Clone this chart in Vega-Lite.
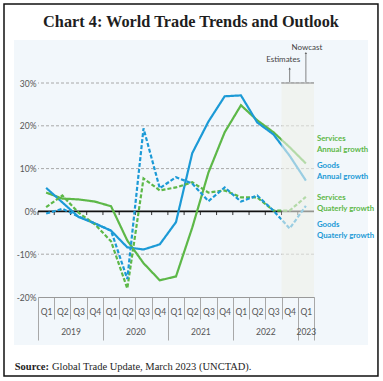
{
  "$schema": "https://vega.github.io/schema/vega-lite/v6.json",
  "width": 276,
  "height": 214,
  "autosize": "none",
  "padding": {"left": 38, "top": 83, "right": 69, "bottom": 84},
  "background": "white",
  "config": {"view": {"stroke": null}},
  "title": {
    "text": "Chart 4: World Trade Trends and Outlook",
    "font": "Liberation Serif",
    "fontSize": 16.3,
    "fontWeight": "bold",
    "color": "#1e1e1e",
    "anchor": "middle",
    "frame": "group",
    "dx": 15,
    "offset": -27
  },
  "data": {"values": [{}]},
  "datasets": {
    "trade": [
      {"series": "Services annual growth", "quarter": "2019 Q1", "i": 1, "value": 4.4},
      {"series": "Services annual growth", "quarter": "2019 Q2", "i": 2, "value": 3.0},
      {"series": "Services annual growth", "quarter": "2019 Q3", "i": 3, "value": 2.8},
      {"series": "Services annual growth", "quarter": "2019 Q4", "i": 4, "value": 2.3},
      {"series": "Services annual growth", "quarter": "2020 Q1", "i": 5, "value": 1.2},
      {"series": "Services annual growth", "quarter": "2020 Q2", "i": 6, "value": -6.8},
      {"series": "Services annual growth", "quarter": "2020 Q3", "i": 7, "value": -12.1},
      {"series": "Services annual growth", "quarter": "2020 Q4", "i": 8, "value": -16.1},
      {"series": "Services annual growth", "quarter": "2021 Q1", "i": 9, "value": -15.2},
      {"series": "Services annual growth", "quarter": "2021 Q2", "i": 10, "value": -3.8},
      {"series": "Services annual growth", "quarter": "2021 Q3", "i": 11, "value": 9.1},
      {"series": "Services annual growth", "quarter": "2021 Q4", "i": 12, "value": 18.5},
      {"series": "Services annual growth", "quarter": "2022 Q1", "i": 13, "value": 24.8},
      {"series": "Services annual growth", "quarter": "2022 Q2", "i": 14, "value": 21.3},
      {"series": "Services annual growth", "quarter": "2022 Q3", "i": 15, "value": 18.5},
      {"series": "Services annual growth", "quarter": "2022 Q4", "i": 16, "value": 15.0},
      {"series": "Services annual growth", "quarter": "2023 Q1", "i": 17, "value": 11.2},
      {"series": "Goods annual growth", "quarter": "2019 Q1", "i": 1, "value": 5.5},
      {"series": "Goods annual growth", "quarter": "2019 Q2", "i": 2, "value": 2.1},
      {"series": "Goods annual growth", "quarter": "2019 Q3", "i": 3, "value": -1.3},
      {"series": "Goods annual growth", "quarter": "2019 Q4", "i": 4, "value": -2.8},
      {"series": "Goods annual growth", "quarter": "2020 Q1", "i": 5, "value": -4.5},
      {"series": "Goods annual growth", "quarter": "2020 Q2", "i": 6, "value": -8.4},
      {"series": "Goods annual growth", "quarter": "2020 Q3", "i": 7, "value": -8.9},
      {"series": "Goods annual growth", "quarter": "2020 Q4", "i": 8, "value": -7.7},
      {"series": "Goods annual growth", "quarter": "2021 Q1", "i": 9, "value": -2.5},
      {"series": "Goods annual growth", "quarter": "2021 Q2", "i": 10, "value": 13.6},
      {"series": "Goods annual growth", "quarter": "2021 Q3", "i": 11, "value": 21.0},
      {"series": "Goods annual growth", "quarter": "2021 Q4", "i": 12, "value": 26.9},
      {"series": "Goods annual growth", "quarter": "2022 Q1", "i": 13, "value": 27.1},
      {"series": "Goods annual growth", "quarter": "2022 Q2", "i": 14, "value": 20.8},
      {"series": "Goods annual growth", "quarter": "2022 Q3", "i": 15, "value": 18.0},
      {"series": "Goods annual growth", "quarter": "2022 Q4", "i": 16, "value": 13.0},
      {"series": "Goods annual growth", "quarter": "2023 Q1", "i": 17, "value": 7.2},
      {"series": "Services quarterly growth", "quarter": "2019 Q1", "i": 1, "value": 1.0},
      {"series": "Services quarterly growth", "quarter": "2019 Q2", "i": 2, "value": 3.7},
      {"series": "Services quarterly growth", "quarter": "2019 Q3", "i": 3, "value": -0.3},
      {"series": "Services quarterly growth", "quarter": "2019 Q4", "i": 4, "value": -3.0},
      {"series": "Services quarterly growth", "quarter": "2020 Q1", "i": 5, "value": -7.0},
      {"series": "Services quarterly growth", "quarter": "2020 Q2", "i": 6, "value": -18.0},
      {"series": "Services quarterly growth", "quarter": "2020 Q3", "i": 7, "value": 7.7},
      {"series": "Services quarterly growth", "quarter": "2020 Q4", "i": 8, "value": 4.9},
      {"series": "Services quarterly growth", "quarter": "2021 Q1", "i": 9, "value": 5.6},
      {"series": "Services quarterly growth", "quarter": "2021 Q2", "i": 10, "value": 6.8},
      {"series": "Services quarterly growth", "quarter": "2021 Q3", "i": 11, "value": 4.4},
      {"series": "Services quarterly growth", "quarter": "2021 Q4", "i": 12, "value": 4.9},
      {"series": "Services quarterly growth", "quarter": "2022 Q1", "i": 13, "value": 3.3},
      {"series": "Services quarterly growth", "quarter": "2022 Q2", "i": 14, "value": 3.3},
      {"series": "Services quarterly growth", "quarter": "2022 Q3", "i": 15, "value": 0.2},
      {"series": "Services quarterly growth", "quarter": "2022 Q4", "i": 16, "value": 0.2},
      {"series": "Services quarterly growth", "quarter": "2023 Q1", "i": 17, "value": 3.4},
      {"series": "Goods quarterly growth", "quarter": "2019 Q1", "i": 1, "value": -0.5},
      {"series": "Goods quarterly growth", "quarter": "2019 Q2", "i": 2, "value": 0.6},
      {"series": "Goods quarterly growth", "quarter": "2019 Q3", "i": 3, "value": -1.2},
      {"series": "Goods quarterly growth", "quarter": "2019 Q4", "i": 4, "value": -2.8},
      {"series": "Goods quarterly growth", "quarter": "2020 Q1", "i": 5, "value": -4.5},
      {"series": "Goods quarterly growth", "quarter": "2020 Q2", "i": 6, "value": -15.8},
      {"series": "Goods quarterly growth", "quarter": "2020 Q3", "i": 7, "value": 19.4},
      {"series": "Goods quarterly growth", "quarter": "2020 Q4", "i": 8, "value": 5.4},
      {"series": "Goods quarterly growth", "quarter": "2021 Q1", "i": 9, "value": 8.0},
      {"series": "Goods quarterly growth", "quarter": "2021 Q2", "i": 10, "value": 6.5},
      {"series": "Goods quarterly growth", "quarter": "2021 Q3", "i": 11, "value": 2.4},
      {"series": "Goods quarterly growth", "quarter": "2021 Q4", "i": 12, "value": 5.6},
      {"series": "Goods quarterly growth", "quarter": "2022 Q1", "i": 13, "value": 2.3},
      {"series": "Goods quarterly growth", "quarter": "2022 Q2", "i": 14, "value": 3.7},
      {"series": "Goods quarterly growth", "quarter": "2022 Q3", "i": 15, "value": 0.2},
      {"series": "Goods quarterly growth", "quarter": "2022 Q4", "i": 16, "value": -4.0},
      {"series": "Goods quarterly growth", "quarter": "2023 Q1", "i": 17, "value": 1.3}
    ],
    "grid": [{"g": 30}, {"g": 20}, {"g": 10}, {"g": -10}]
  },
  "resolve": {"axis": {"x": "independent", "y": "independent"}},
  "layer": [
    {
      "mark": {"type": "rect", "fill": "white", "stroke": "#111", "strokeWidth": 1.5},
      "encoding": {
        "x": {"datum": -1.594, "type": "quantitative", "scale": {"domain": [0.5, 17.5], "nice": false, "zero": false}, "axis": null},
        "x2": {"datum": 21.44},
        "y": {"datum": 48.46, "type": "quantitative", "scale": {"domain": [-20, 30], "nice": false, "zero": false}, "axis": null},
        "y2": {"datum": -38.46}
      }
    },
    {
      "mark": {"type": "rect", "fill": "#f2f7fb"},
      "encoding": {
        "x": {"datum": -0.978, "type": "quantitative", "axis": null},
        "x2": {"datum": 20.83},
        "y": {"datum": 40.05, "type": "quantitative", "axis": null},
        "y2": {"datum": -31.2}
      }
    },
    {
      "data": {"name": "grid"},
      "mark": {"type": "rule", "stroke": "#a8a8a8", "strokeWidth": 1, "strokeDash": [3, 2]},
      "encoding": {
        "y": {"field": "g", "type": "quantitative", "axis": null}
      }
    },
    {
      "data": {"name": "trade"},
      "transform": [{"filter": "datum.series == 'Goods annual growth'"}],
      "mark": {"type": "rule", "stroke": "#333", "strokeWidth": 1, "xOffset": -8.12},
      "encoding": {
        "x": {"field": "i", "type": "quantitative", "axis": null},
        "y": {"datum": 0, "type": "quantitative", "axis": null},
        "y2": {"datum": -0.85}
      }
    },
    {
      "mark": {"type": "rule", "stroke": "#111", "strokeWidth": 1.6},
      "encoding": {
        "y": {
          "datum": 0, "type": "quantitative",
          "axis": {
            "orient": "left",
            "values": [-20, -10, 0, 10, 20, 30],
            "labelExpr": "datum.value + '%'",
            "title": null,
            "grid": false,
            "domain": false,
            "ticks": false,
            "labelPadding": 2,
            "labelFont": "Lato",
            "labelFontSize": 8.5,
            "labelColor": "#555",
            "labelFlush": false,
            "labelOverlap": false,
            "zindex": 1
          }
        }
      }
    },
    {
      "data": {"name": "trade"},
      "mark": {"type": "line", "strokeWidth": 2.2},
      "encoding": {
        "x": {
          "field": "i", "type": "quantitative",
          "scale": {"domain": [0.5, 17.5], "nice": false, "zero": false},
          "axis": {
            "orient": "bottom",
            "values": [0.5, 1.5, 2.5, 3.5, 4.5, 5.5, 6.5, 7.5, 8.5, 9.5, 10.5, 11.5, 12.5, 13.5, 14.5, 15.5, 16.5, 17.5],
            "labelExpr": "datum.value > 17 ? '' : 'Q' + ((datum.value - 0.5) % 4 + 1)",
            "title": null,
            "grid": false,
            "domain": true,
            "domainColor": "#999",
            "domainWidth": 1.2,
            "ticks": true,
            "tickSize": 22,
            "tickColor": "#a8a8a8",
            "tickWidth": 1,
            "labelOffset": 8.1,
            "labelPadding": -12,
            "labelFont": "Lato",
            "labelFontSize": 8.5,
            "labelColor": "#555",
            "labelFlush": false,
            "labelOverlap": false,
            "labelBound": false,
            "zindex": 1
          }
        },
        "y": {
          "field": "value", "type": "quantitative",
          "scale": {"domain": [-20, 30], "nice": false, "zero": false},
          "axis": null
        },
        "color": {
          "field": "series", "type": "nominal", "legend": null,
          "scale": {
            "domain": ["Services quarterly growth", "Goods quarterly growth", "Services annual growth", "Goods annual growth"],
            "range": ["#5db848", "#1c9ad6", "#5db848", "#1c9ad6"]
          }
        },
        "strokeDash": {
          "field": "series", "type": "nominal", "legend": null,
          "scale": {
            "domain": ["Services quarterly growth", "Goods quarterly growth", "Services annual growth", "Goods annual growth"],
            "range": [[4, 2], [4, 2], [1, 0], [1, 0]]
          }
        },
        "order": {"field": "i"}
      }
    },
    {
      "mark": {"type": "rect", "fill": "#eef0ea", "opacity": 0.6},
      "encoding": {
        "x": {
          "datum": 15.5, "type": "quantitative",
          "axis": {
            "orient": "bottom",
            "values": [0.5, 4.5, 8.5, 12.5, 16.5, 17.5],
            "labelExpr": "datum.value > 17 ? '' : '' + (2019 + floor((datum.value - 0.5) / 4))",
            "title": null,
            "grid": false,
            "domain": false,
            "ticks": true,
            "tickSize": 43,
            "tickColor": "#a8a8a8",
            "tickWidth": 1,
            "labelOffset": {"condition": {"test": "datum.value > 16", "value": 8.1}, "value": 32.5},
            "labelPadding": -13,
            "labelFont": "Lato",
            "labelFontSize": 8.5,
            "labelColor": "#555",
            "labelFlush": false,
            "labelOverlap": false,
            "labelBound": false,
            "zindex": 1
          }
        },
        "x2": {"datum": 17.5},
        "y": {"datum": 30, "type": "quantitative", "axis": null},
        "y2": {"datum": -20}
      }
    },
    {
      "mark": {"type": "rule", "stroke": "#8a8a8a", "strokeWidth": 1.2},
      "encoding": {
        "x": {"datum": 15.5, "type": "quantitative", "axis": null},
        "x2": {"datum": 17.5},
        "y": {"datum": 30, "type": "quantitative", "axis": null}
      }
    },
    {
      "mark": {"type": "rule", "stroke": "#666", "strokeWidth": 0.8},
      "encoding": {
        "x": {"datum": 16, "type": "quantitative", "axis": null},
        "y": {"datum": 30.2, "type": "quantitative", "axis": null},
        "y2": {"datum": 33.4}
      }
    },
    {
      "mark": {"type": "rule", "stroke": "#666", "strokeWidth": 0.8},
      "encoding": {
        "x": {"datum": 17, "type": "quantitative", "axis": null},
        "y": {"datum": 30.2, "type": "quantitative", "axis": null},
        "y2": {"datum": 37.0}
      }
    },
    {
      "mark": {"type": "point", "shape": "triangle-up", "filled": true, "color": "#666", "size": 6, "opacity": 1},
      "encoding": {
        "x": {"datum": 16, "type": "quantitative", "axis": null},
        "y": {"datum": 33.4, "type": "quantitative", "axis": null}
      }
    },
    {
      "mark": {"type": "point", "shape": "triangle-up", "filled": true, "color": "#666", "size": 6, "opacity": 1},
      "encoding": {
        "x": {"datum": 17, "type": "quantitative", "axis": null},
        "y": {"datum": 37.0, "type": "quantitative", "axis": null}
      }
    },
    {
      "mark": {"type": "text", "text": "Estimates", "font": "Lato", "fontSize": 8, "color": "#444", "align": "center", "baseline": "middle"},
      "encoding": {
        "x": {"datum": 15.6, "type": "quantitative", "axis": null},
        "y": {"datum": 35.4, "type": "quantitative", "axis": null}
      }
    },
    {
      "mark": {"type": "text", "text": "Nowcast", "font": "Lato", "fontSize": 8, "color": "#444", "align": "center", "baseline": "middle"},
      "encoding": {
        "x": {"datum": 17.07, "type": "quantitative", "axis": null},
        "y": {"datum": 38.2, "type": "quantitative", "axis": null}
      }
    },
    {
      "mark": {"type": "text", "text": ["Services", "Annual growth"], "font": "Lato", "fontSize": 7.8, "fontWeight": "bold", "lineHeight": 11, "color": "#5db848", "align": "left", "baseline": "middle"},
      "encoding": {
        "x": {"datum": 17.68, "type": "quantitative", "axis": null},
        "y": {"datum": 16.92, "type": "quantitative", "axis": null}
      }
    },
    {
      "mark": {"type": "text", "text": ["Goods", "Annual growth"], "font": "Lato", "fontSize": 7.8, "fontWeight": "bold", "lineHeight": 11, "color": "#1c9ad6", "align": "left", "baseline": "middle"},
      "encoding": {
        "x": {"datum": 17.68, "type": "quantitative", "axis": null},
        "y": {"datum": 10.6, "type": "quantitative", "axis": null}
      }
    },
    {
      "mark": {"type": "text", "text": ["Services", "Quaterly growth"], "font": "Lato", "fontSize": 7.8, "fontWeight": "bold", "lineHeight": 11, "color": "#5db848", "align": "left", "baseline": "middle"},
      "encoding": {
        "x": {"datum": 17.68, "type": "quantitative", "axis": null},
        "y": {"datum": 3.13, "type": "quantitative", "axis": null}
      }
    },
    {
      "mark": {"type": "text", "text": ["Goods", "Quaterly growth"], "font": "Lato", "fontSize": 7.8, "fontWeight": "bold", "lineHeight": 11, "color": "#1c9ad6", "align": "left", "baseline": "middle"},
      "encoding": {
        "x": {"datum": 17.68, "type": "quantitative", "axis": null},
        "y": {"datum": -3.18, "type": "quantitative", "axis": null}
      }
    },
    {
      "mark": {"type": "text", "text": "Source:", "font": "Liberation Serif", "fontSize": 10.5, "fontWeight": "bold", "color": "#1e1e1e", "align": "left", "baseline": "middle"},
      "encoding": {
        "x": {"datum": -0.93, "type": "quantitative", "axis": null},
        "y": {"datum": -36.3, "type": "quantitative", "axis": null}
      }
    },
    {
      "mark": {"type": "text", "text": "Global Trade Update, March 2023 (UNCTAD).", "font": "Liberation Serif", "fontSize": 10.5, "color": "#1e1e1e", "align": "left", "baseline": "middle"},
      "encoding": {
        "x": {"datum": 1.362, "type": "quantitative", "axis": null},
        "y": {"datum": -36.3, "type": "quantitative", "axis": null}
      }
    }
  ]
}
